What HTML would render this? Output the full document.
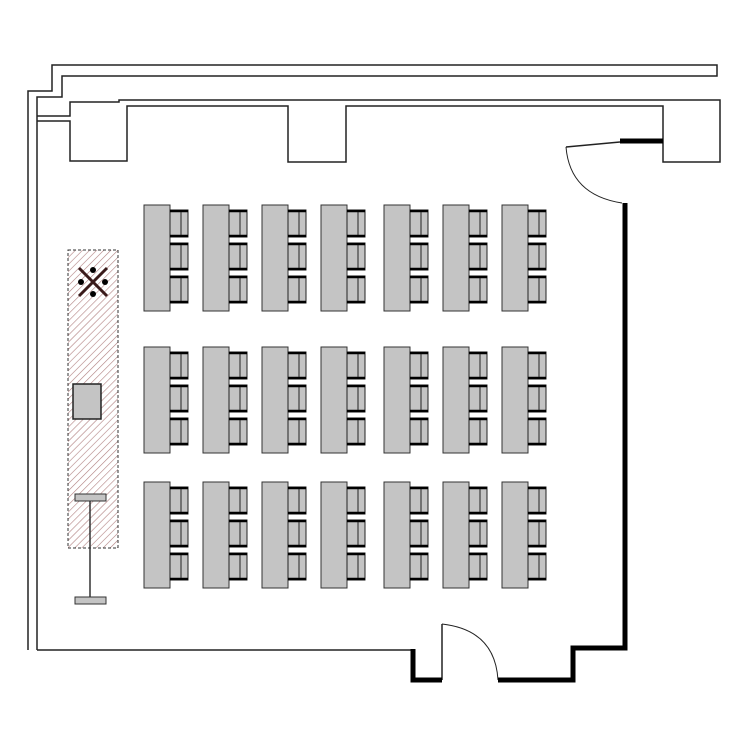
<!DOCTYPE html>
<html><head><meta charset="utf-8"><style>html,body{margin:0;padding:0;background:#fff}</style></head><body>
<svg width="750" height="750" viewBox="0 0 750 750" xmlns="http://www.w3.org/2000/svg">
<defs>
<pattern id="h" width="5" height="5" patternUnits="userSpaceOnUse" patternTransform="rotate(45)">
<line x1="0" y1="0" x2="0" y2="5" stroke="#b08080" stroke-width="1.2"/>
</pattern>
<g id="tbl">
<rect x="0" y="0" width="26" height="106" fill="#c4c4c4" stroke="#333" stroke-width="1"/>
<g id="ch">
<rect x="26" y="5" width="18" height="27" fill="#c4c4c4" stroke="#222" stroke-width="1"/>
<line x1="26" y1="6" x2="44" y2="6" stroke="#000" stroke-width="2.5"/>
<line x1="26" y1="31" x2="44" y2="31" stroke="#000" stroke-width="2.5"/>
<line x1="37" y1="7" x2="37" y2="30" stroke="#222" stroke-width="1"/>
</g>
<use href="#ch" y="33"/>
<use href="#ch" y="66"/>
</g>
</defs>
<g fill="none" stroke="#222" stroke-width="1.5">
<path d="M28,650 V91 H52 V65 H717 V76 H62 V97 H37 V650"/>
<path d="M37,116 H70 V102 H119 V100 H720 V162 H663 V106 H346 V162 H288 V106 H127 V161 H70 V121 H37"/>
<path d="M37,650 H413"/>
<path d="M620,142 L566,147"/>
<path d="M566,147 Q570,195 622,203" stroke-width="1"/>
<path d="M442,680 V624" />
<path d="M442,624 Q495,630 498,680" stroke-width="1"/>
</g>
<g fill="none" stroke="#000" stroke-width="5">
<path d="M663,141 H620"/>
<path d="M625,203 V648 H573 V680 H498"/>
<path d="M413,649 V680 H442"/>
</g>
<rect x="68" y="250" width="50" height="298" fill="url(#h)" stroke="#333" stroke-width="1" stroke-dasharray="3,2"/>
<g stroke="#3a1a1a" stroke-width="3"><line x1="79" y1="268" x2="107" y2="296"/><line x1="107" y1="268" x2="79" y2="296"/></g>
<g fill="#000"><circle cx="93" cy="270" r="3"/><circle cx="93" cy="294" r="3"/><circle cx="81" cy="282" r="3"/><circle cx="105" cy="282" r="3"/></g>
<rect x="73" y="384" width="28" height="35" fill="#c4c4c4" stroke="#222" stroke-width="1.5"/>
<g fill="#c4c4c4" stroke="#333" stroke-width="1">
<rect x="75" y="494" width="31" height="7"/>
<rect x="75" y="597" width="31" height="7"/>
<line x1="90" y1="501" x2="90" y2="597" stroke-width="1.5"/>
</g>
<g>
<use href="#tbl" x="144" y="205"/><use href="#tbl" x="203" y="205"/><use href="#tbl" x="262" y="205"/><use href="#tbl" x="321" y="205"/><use href="#tbl" x="384" y="205"/><use href="#tbl" x="443" y="205"/><use href="#tbl" x="502" y="205"/>
<use href="#tbl" x="144" y="347"/><use href="#tbl" x="203" y="347"/><use href="#tbl" x="262" y="347"/><use href="#tbl" x="321" y="347"/><use href="#tbl" x="384" y="347"/><use href="#tbl" x="443" y="347"/><use href="#tbl" x="502" y="347"/>
<use href="#tbl" x="144" y="482"/><use href="#tbl" x="203" y="482"/><use href="#tbl" x="262" y="482"/><use href="#tbl" x="321" y="482"/><use href="#tbl" x="384" y="482"/><use href="#tbl" x="443" y="482"/><use href="#tbl" x="502" y="482"/>
</g>
</svg>
</body></html>
